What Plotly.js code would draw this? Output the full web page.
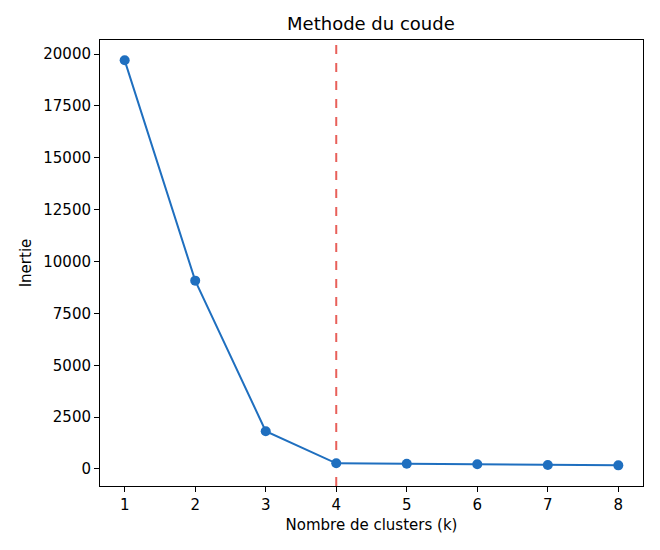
<!DOCTYPE html>
<html><head><meta charset="utf-8">
<script src="https://cdn.plot.ly/plotly-3.0.1.min.js"></script>
<style>body{margin:0;padding:0;background:#fff}</style>
</head><body>
<div id="chart" style="width:660px;height:550px"></div>
<script>
const kValues = [1, 2, 3, 4, 5, 6, 7, 8];
const inertia = [19700, 9080, 1820, 275, 255, 225, 190, 175];
const elbowK = 4;
const xTicks = [1, 2, 3, 4, 5, 6, 7, 8];
const yTicks = [0, 2500, 5000, 7500, 10000, 12500, 15000, 17500, 20000];

const traces = [
  {x: kValues, y: inertia, type: 'scatter', mode: 'lines+markers',
   line: {color: '#1f6fbf', width: 2}, marker: {color: '#1f6fbf', size: 10},
   hoverinfo: 'skip', showlegend: false}
];
const layout = {
  width: 660, height: 550,
  margin: {l: 100, r: 17, t: 40, b: 64},
  paper_bgcolor: '#fff', plot_bgcolor: '#fff',
  font: {family: 'DejaVu Sans', size: 15, color: '#000'},
  title: {text: 'Methode du coude', font: {size: 18}, x: 0.562, xanchor: 'center', y: 0.957, yanchor: 'middle'},
  xaxis: {range: [0.65, 8.35], tickvals: xTicks, ticktext: xTicks.map(String), ticks: 'outside', ticklen: 5, tickcolor: '#000',
          tickfont: {size: 15},
          showgrid: false, zeroline: false, showline: true, mirror: true, linecolor: '#000', linewidth: 1,
          title: {text: 'Nombre de clusters (k)', font: {size: 15}, standoff: 6}},
  yaxis: {range: [-820, 20680], tickvals: yTicks, ticktext: yTicks.map(String), ticks: 'outside', ticklen: 5, tickcolor: '#000',
          tickfont: {size: 15},
          showgrid: false, zeroline: false, showline: true, mirror: true, linecolor: '#000', linewidth: 1,
          title: {text: 'Inertie', font: {size: 15}, standoff: 8}},
  shapes: [{type: 'line', xref: 'x', yref: 'paper', x0: elbowK, x1: elbowK, y0: 0, y1: 1,
            line: {color: '#e8605a', width: 2, dash: 'dash'}, layer: 'below'}]
};
Plotly.newPlot('chart', traces, layout, {staticPlot: true, displayModeBar: false});
</script>
</body></html>
